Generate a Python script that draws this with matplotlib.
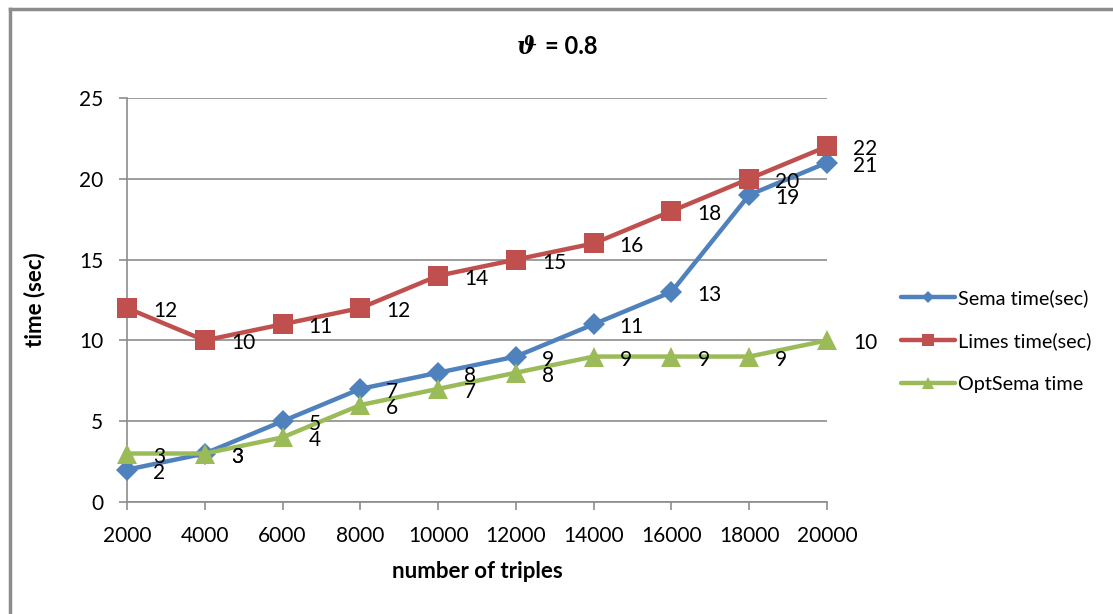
import matplotlib
matplotlib.use("Agg")
import matplotlib.pyplot as plt
from matplotlib.lines import Line2D

# Data
triples = [2000, 4000, 6000, 8000, 10000, 12000, 14000, 16000, 18000, 20000]
sema_time = [2, 3, 5, 7, 8, 9, 11, 13, 19, 21]
limes_time = [12, 10, 11, 12, 14, 15, 16, 18, 20, 22]
optsema_time = [3, 3, 4, 6, 7, 8, 9, 9, 9, 10]
series_names = ["Sema time(sec)", "Limes time(sec)", "OptSema time"]
y_ticks = [0, 5, 10, 15, 20, 25]

plt.rcParams["font.family"] = ["Lato", "DejaVu Sans"]
FS = 15

W, H = 1113, 614
fig = plt.figure(figsize=(W / 100, H / 100), dpi=100)
fig.patch.set_facecolor("white")

ax = fig.add_axes([127 / W, 1 - 502 / H, (827 - 127) / W, (502 - 98) / H])

grid_col = "#8c8c8c"
styles = [
    (sema_time, "#4F81BD", "D", 11),
    (limes_time, "#C0504D", "s", 14),
    (optsema_time, "#9BBB59", "^", 15),
]

handles = []
for (vals, col, mk, ms), name in zip(styles, series_names):
    ln, = ax.plot(triples, vals, color=col, lw=3.2, marker=mk, markersize=ms,
                  markeredgewidth=0, clip_on=False, zorder=3, label=name,
                  solid_capstyle="round", solid_joinstyle="round")
    handles.append(ln)
    for x, v in zip(triples, vals):
        ax.annotate(str(v), (x, v), xytext=(26, -3), textcoords="offset pixels",
                    ha="left", va="center", fontsize=FS, color="black", zorder=4)

ax.set_xlim(2000, 20000)
ax.set_ylim(0, 25)
ax.set_xticks(triples)
ax.set_xticklabels([str(t) for t in triples], fontsize=FS)
ax.set_yticks(y_ticks)
ax.set_yticklabels([str(t) for t in y_ticks], fontsize=FS)

ax.grid(axis="y", color=grid_col, lw=1.2, zorder=0)
ax.set_axisbelow(True)
for s in ["top", "right"]:
    ax.spines[s].set_visible(False)
for s in ["left", "bottom"]:
    ax.spines[s].set_color(grid_col)
    ax.spines[s].set_linewidth(1.2)
ax.tick_params(axis="both", color=grid_col, width=1.2, length=6, direction="out")
ax.tick_params(axis="x", pad=11)
ax.tick_params(axis="y", pad=11)

ax.set_xlabel("number of triples", fontsize=16, fontweight="bold", labelpad=11)
ax.set_ylabel("time (sec)", fontsize=16, fontweight="bold", labelpad=24)

# Title: Greek theta symbol followed by the value
ty = 1 - 47 / H
fig.text(537 / W, ty, "ϑ", ha="right", va="center", fontsize=17,
         fontweight="bold", fontstyle="italic", family=["DejaVu Serif"])
fig.text(545 / W, ty, "= 0.8", ha="left", va="center", fontsize=17,
         fontweight="bold")

leg = fig.legend(handles=handles, loc="center left",
                 bbox_to_anchor=(883 / W, 1 - 341 / H), frameon=False,
                 fontsize=14.3, handlelength=2.7, handletextpad=0.2,
                 labelspacing=1.3, markerscale=0.6)

# Chart frame edges
fig.add_artist(Line2D([10 / W, 10 / W], [0, 1 - 9 / H], color="#8c8c8c", lw=2.5,
                      transform=fig.transFigure))
fig.add_artist(Line2D([10 / W, 1], [1 - 9 / H, 1 - 9 / H], color="#8c8c8c", lw=2.5,
                      transform=fig.transFigure))

fig.savefig("out.png", dpi=100, facecolor="white")
